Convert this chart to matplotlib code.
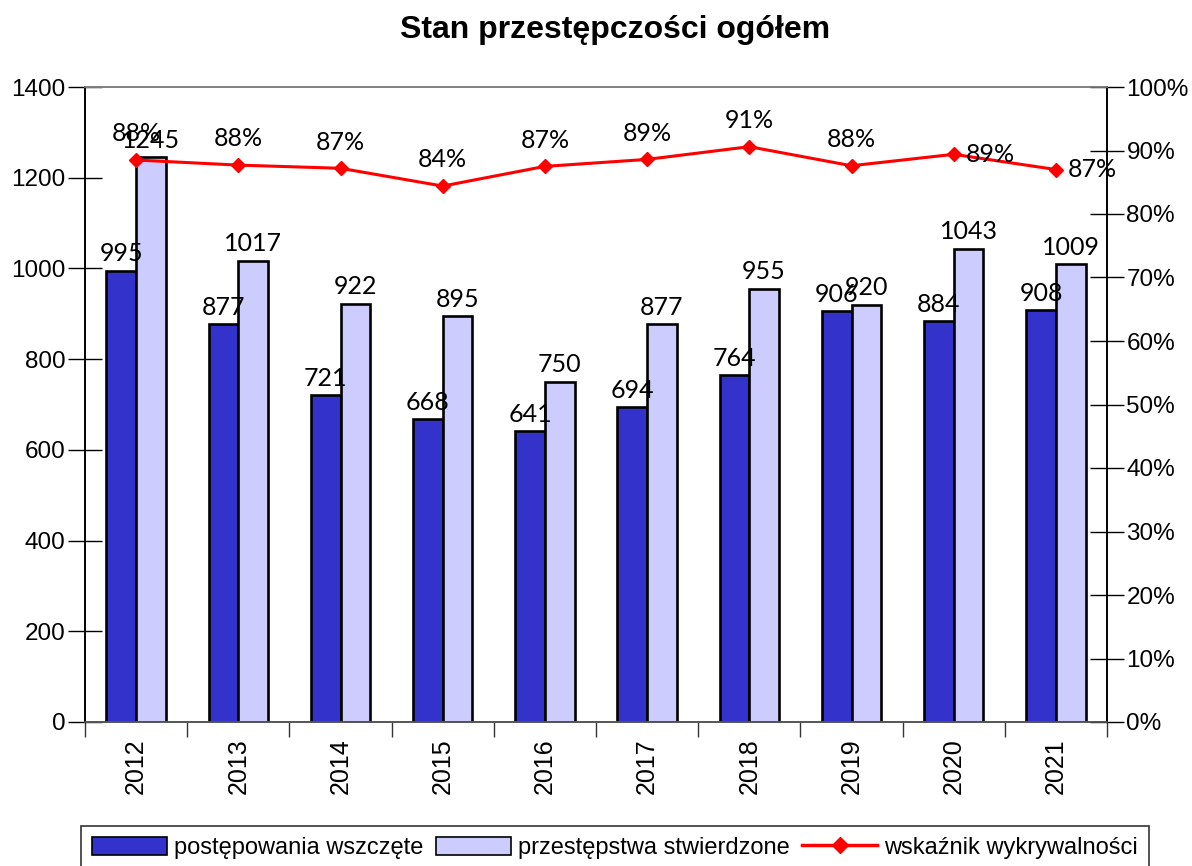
import matplotlib
matplotlib.use("Agg")
import matplotlib.pyplot as plt
import numpy as np
from matplotlib.lines import Line2D
from matplotlib.patches import Patch

years = ["2012", "2013", "2014", "2015", "2016", "2017", "2018", "2019", "2020", "2021"]
wszczete = [995, 877, 721, 668, 641, 694, 764, 906, 884, 908]
stwierdzone = [1245, 1017, 922, 895, 750, 877, 955, 920, 1043, 1009]
wskaznik = [88.5, 87.7, 87.2, 84.4, 87.5, 88.6, 90.6, 87.6, 89.4, 87.0]
wskaznik_labels = ["88%", "88%", "87%", "84%", "87%", "89%", "91%", "88%", "89%", "87%"]

LAB_FONT = "Lato"
AX_FONT = "Liberation Sans"

fig = plt.figure(figsize=(11.92, 8.66), dpi=100)
ax = fig.add_axes([85/1192, 1-722/866, (1107-85)/1192, (722-87)/866])
ax2 = ax.twinx()

x = np.arange(len(years))
w = 0.29
dark = "#3333CC"
light = "#CCCCFF"
ax.bar(x - w/2, wszczete, w, color=dark, edgecolor="black", linewidth=1.9, zorder=2)
ax.bar(x + w/2, stwierdzone, w, color=light, edgecolor="black", linewidth=1.9, zorder=2)

for xi, v in zip(x, wszczete):
    ax.text(xi - w/2, v + 12, str(v), ha="center", va="bottom", fontsize=18, family=LAB_FONT)
for xi, v in zip(x, stwierdzone):
    ax.text(xi + w/2, v + 12, str(v), ha="center", va="bottom", fontsize=18, family=LAB_FONT)

ax.set_xlim(-0.5, len(years) - 0.5)
ax.set_ylim(0, 1400)
ax.set_yticks(np.arange(0, 1401, 200))
ax.set_xticks(x)
ax.set_xticklabels(years, rotation=90, fontsize=18, family=AX_FONT)
ax.tick_params(axis="x", length=0, pad=12)
ax.set_xticks(np.arange(-0.5, len(years), 1), minor=True)
ax.tick_params(axis="x", which="minor", length=11, direction="out", width=1, color="#333333")
ax.tick_params(axis="y", direction="inout", length=24, width=1, labelsize=17.5, pad=2)
for lab in ax.get_yticklabels():
    lab.set_family(AX_FONT)

ax2.plot(x, wskaznik, color="#FF0000", linewidth=2.2, marker="D", markersize=7, zorder=5)
ax2.set_ylim(0, 100)
ax2.set_yticks(np.arange(0, 101, 10))
ax2.set_yticklabels([f"{v}%" for v in range(0, 101, 10)])
ax2.tick_params(axis="y", direction="inout", length=24, width=1, labelsize=17.5, pad=2)
for lab in ax2.get_yticklabels():
    lab.set_family(AX_FONT)

for i, (v, s) in enumerate(zip(wskaznik, wskaznik_labels)):
    if i >= 8:
        ax2.text(x[i] + 0.12, v, s, ha="left", va="center", fontsize=18, family=LAB_FONT, zorder=6)
    else:
        ax2.text(x[i], v + 2.3, s, ha="center", va="bottom", fontsize=18, family=LAB_FONT, zorder=6)

for a in (ax, ax2):
    a.spines["top"].set_color("#808080")
    a.spines["bottom"].set_color("#555555")
    a.spines["left"].set_color("black")
    a.spines["right"].set_color("black")
    for s in a.spines.values():
        s.set_linewidth(1.2)

fig.text(615/1192, 1 - 30/866, "Stan przestępczości ogółem", ha="center", va="center",
         fontsize=23, fontweight="bold", family=AX_FONT)

handles = [
    Patch(facecolor=dark, edgecolor="black", linewidth=1.2),
    Patch(facecolor=light, edgecolor="black", linewidth=1.2),
    Line2D([0], [0], color="#FF0000", linewidth=2.5, marker="D", markersize=8),
]
labels = ["postępowania wszczęte", "przestępstwa stwierdzone", "wskaźnik wykrywalności"]
leg = fig.legend(handles, labels, loc="upper center", bbox_to_anchor=(615/1192, 1 - 826/866), ncol=3,
                 frameon=True, fancybox=False, edgecolor="black",
                 prop={"family": AX_FONT, "size": 17}, handlelength=3.2, handleheight=0.8,
                 columnspacing=0.5, handletextpad=0.3, borderpad=0.45, borderaxespad=0.0)
leg.get_frame().set_linewidth(1.2)

fig.savefig("out.png", dpi=100)
